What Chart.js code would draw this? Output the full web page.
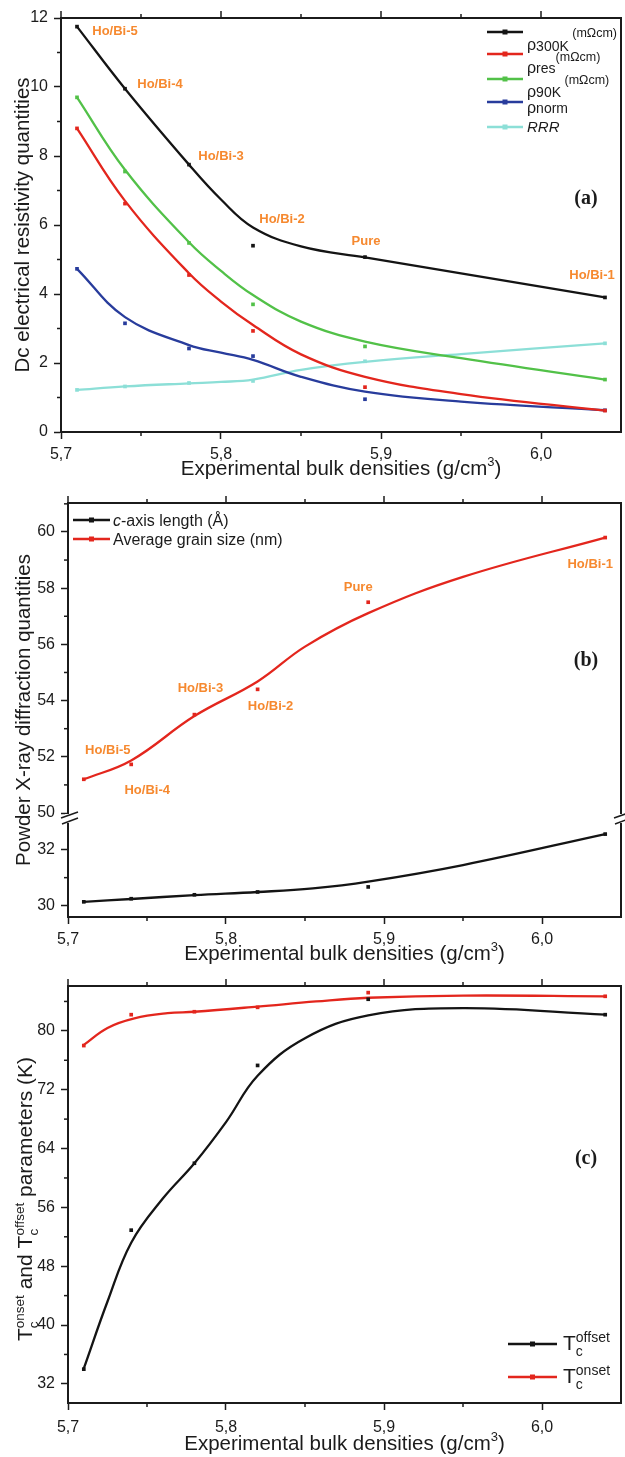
<!DOCTYPE html>
<html>
<head>
<meta charset="utf-8">
<script src="https://cdn.jsdelivr.net/npm/chart.js@4.4.0/dist/chart.umd.min.js"></script>
<style>
  body { margin: 0; background: #fff; }
  #wrap { position: relative; width: 625px; height: 1457px; }
  canvas { position: absolute; left: 0; }
</style>
</head>
<body>
<div id="wrap">
  <canvas id="chartA" width="625" height="482" style="top:0px"></canvas>
  <canvas id="chartB" width="625" height="484" style="top:482px"></canvas>
  <canvas id="chartC" width="625" height="491" style="top:966px"></canvas>
</div>
<script>
// samples (bulk density, g/cm3)
var densities = [5.71, 5.74, 5.78, 5.82, 5.89, 6.04];
var sampleNames = ["Ho/Bi-5", "Ho/Bi-4", "Ho/Bi-3", "Ho/Bi-2", "Pure", "Ho/Bi-1"];

// (a) dc resistivity quantities, measured points
var rho300K = [11.75, 9.95, 7.75, 5.4, 5.07, 3.9];
var rhoRes  = [8.8, 6.62, 4.55, 2.93, 1.3, 0.62];
var rho90K  = [9.7, 7.55, 5.48, 3.7, 2.48, 1.52];
var rhoNorm = [4.73, 3.15, 2.42, 2.2, 0.95, 0.63];
var rrr     = [1.22, 1.32, 1.42, 1.48, 2.05, 2.57];

// (a) fitted curves
var fitXA   = [5.71, 5.74, 5.78, 5.80, 5.82, 5.85, 5.89, 5.95, 6.04];
var fit300K = [11.75, 9.95, 7.75, 6.74, 5.93, 5.38, 5.06, 4.6, 3.9];
var fitRes  = [8.8, 6.7, 4.6, 3.78, 3.1, 2.25, 1.6, 1.1, 0.62];
var fit90K  = [9.7, 7.6, 5.5, 4.67, 3.97, 3.2, 2.62, 2.14, 1.52];
var fitNorm = [4.73, 3.33, 2.52, 2.3, 2.09, 1.6, 1.17, 0.88, 0.63];
var fitRRR  = [1.22, 1.32, 1.41, 1.45, 1.52, 1.8, 2.03, 2.26, 2.57];

// (b) XRD quantities
var cAxis      = [30.14, 30.25, 30.39, 30.49, 30.67, 32.55];
var grainSize  = [51.2, 51.73, 53.5, 54.4, 57.5, 59.8];
var fitXCAxis  = [5.71, 5.74, 5.78, 5.82, 5.855, 5.89, 5.95, 6.04];
var fitCAxis   = [30.14, 30.24, 30.38, 30.49, 30.62, 30.86, 31.45, 32.55];
var fitXGrain  = [5.71, 5.74, 5.78, 5.82, 5.85, 5.89, 5.95, 6.04];
var fitGrain   = [51.2, 51.87, 53.45, 54.68, 55.92, 57.11, 58.4, 59.8];

// (c) Tc parameters
var tcOffset     = [34.0, 52.9, 62.0, 75.3, 84.3, 82.2];
var tcOnset      = [78.0, 82.2, 82.6, 83.2, 85.2, 84.7];
var fitXOffset   = [5.71, 5.725, 5.74, 5.76, 5.78, 5.80, 5.82, 5.85, 5.89, 5.95, 6.04];
var fitTcOffset  = [34.1, 43.2, 51.2, 57.2, 62.0, 67.6, 73.9, 79.0, 82.1, 83.1, 82.2];
var fitXOnset    = [5.71, 5.725, 5.742, 5.763, 5.78, 5.82, 5.857, 5.89, 5.95, 6.04];
var fitTcOnset   = [78.1, 80.4, 81.7, 82.4, 82.6, 83.3, 84.0, 84.5, 84.8, 84.7];

// tick values
var xTicks = [5.7, 5.8, 5.9, 6.0];
var xMinor = [5.75, 5.85, 5.95];
var yTicksA = [0, 2, 4, 6, 8, 10, 12];
var yMinorA = [1, 3, 5, 7, 9, 11];
var yTicksBUp = [50, 52, 54, 56, 58, 60];
var yMinorBUp = [51, 53, 55, 57, 59, 61];
var yTicksBLow = [30, 32];
var yMinorBLow = [31];
var yTicksC = [32, 40, 48, 56, 64, 72, 80];
var yMinorC = [36, 44, 52, 60, 68, 76, 84];

var FONT = "'Liberation Sans', Arial, Helvetica, sans-serif";
var INK = '#1b1b1b';
var ORANGE = '#F6892F';
var C = { black: '#141414', red: '#E3261D', green: '#52C148', blue: '#283C9C', cyan: '#8CDFD7' };
var X_TITLE = ['Experimental bulk densities (g/cm', '3', ')'];

function pts(xs, ys) {
  return xs.map(function (x, i) { return { x: x, y: ys[i] }; });
}
function curve(xs, ys, color, axis) {
  return { data: pts(xs, ys), showLine: true, borderColor: color, borderWidth: 2.3, pointRadius: 0,
           tension: 0.4, yAxisID: axis || 'y', order: 5 };
}
function marks(ys, color, axis, order) {
  return { data: pts(densities, ys), showLine: false, pointStyle: 'rect', pointRadius: 2.6,
           backgroundColor: color, borderColor: color, borderWidth: 0, yAxisID: axis || 'y',
           order: order === undefined ? 1 : order };
}

var gridOpts = { drawOnChartArea: false, drawTicks: true, tickLength: 7, tickColor: INK, tickWidth: 1.5 };
var borderOpts = { display: true, color: INK, width: 2 };

function xScale(h, pad) {
  return {
    type: 'linear', min: 5.7, max: 6.05,
    afterBuildTicks: function (s) { s.ticks = xTicks.map(function (v) { return { value: v }; }); },
    afterFit: function (s) { s.height = h; },
    grid: gridOpts, border: borderOpts,
    ticks: { color: INK, font: { family: FONT, size: 16 }, padding: pad,
             callback: function (v) { return v.toFixed(1).replace('.', ','); } }
  };
}
function yScale(min, max, ticks, width, extra) {
  var s = {
    type: 'linear', position: 'left', min: min, max: max,
    afterBuildTicks: function (sc) { sc.ticks = ticks.map(function (v) { return { value: v }; }); },
    afterFit: function (sc) { sc.width = width; },
    grid: gridOpts, border: borderOpts,
    ticks: { color: INK, font: { family: FONT, size: 16 }, padding: 6 }
  };
  if (extra) Object.assign(s, extra);
  return s;
}

// draw a run of text pieces (for sub/superscripts)
function runs(ctx, x, y, parts) {
  parts.forEach(function (p) {
    ctx.font = (p.st || '') + ' ' + p.size + 'px ' + FONT;
    ctx.fillText(p.t, x, y + (p.dy || 0));
    x += ctx.measureText(p.t).width;
  });
  return x;
}
// T with subscript c and a superscript
function tc(ctx, x, y, sup, big, small) {
  ctx.font = big + 'px ' + FONT;
  ctx.fillText('T', x, y);
  x += ctx.measureText('T').width;
  ctx.font = small + 'px ' + FONT;
  ctx.fillText(sup, x, y - 8);
  ctx.fillText('c', x, y + 6);
  return x + Math.max(ctx.measureText(sup).width, ctx.measureText('c').width);
}

function makeDecor(cfg) {
  return {
    id: 'decor',
    afterDraw: function (chart) {
      var ctx = chart.ctx, a = chart.chartArea, sx = chart.scales.x;
      ctx.save();
      ctx.strokeStyle = INK;
      ctx.fillStyle = INK;
      function seg(x1, y1, x2, y2) { ctx.beginPath(); ctx.moveTo(x1, y1); ctx.lineTo(x2, y2); ctx.stroke(); }

      // frame top + right
      ctx.lineWidth = 2;
      ctx.beginPath();
      ctx.moveTo(a.left - 1, a.top); ctx.lineTo(a.right, a.top); ctx.lineTo(a.right, a.bottom + 1);
      ctx.stroke();

      // top ticks and minor ticks
      ctx.lineWidth = 1.5;
      xTicks.forEach(function (v) { var p = sx.getPixelForValue(v); seg(p, a.top, p, a.top - 7); });
      xMinor.forEach(function (v) {
        var p = sx.getPixelForValue(v);
        seg(p, a.top, p, a.top - 4);
        seg(p, a.bottom, p, a.bottom + 4);
      });
      cfg.yMinor.forEach(function (m) {
        var s = chart.scales[m.axis];
        m.values.forEach(function (v) { var p = s.getPixelForValue(v); seg(a.left, p, a.left - 4, p); });
      });

      // axis break marks
      if (cfg.breakAt) {
        var yb = chart.scales[cfg.breakAt].bottom;
        [a.left, a.right].forEach(function (x) {
          ctx.fillStyle = '#fff';
          ctx.fillRect(x - 3, yb + 1, 6, 9);
          ctx.strokeStyle = INK;
          ctx.lineWidth = 1.5;
          seg(x - 7, yb + 5, x + 10, yb - 1);
          seg(x - 6, yb + 11, x + 10, yb + 5);
        });
        ctx.fillStyle = INK;
      }

      // sample labels
      if (cfg.labels) {
        var ys = chart.scales[cfg.labels.axis];
        ctx.fillStyle = ORANGE;
        ctx.font = 'bold 13px ' + FONT;
        ctx.textAlign = 'center';
        ctx.textBaseline = 'middle';
        sampleNames.forEach(function (name, i) {
          var px = sx.getPixelForValue(densities[i]) + cfg.labels.off[i][0];
          var py = ys.getPixelForValue(cfg.labels.series[i]) + cfg.labels.off[i][1];
          ctx.fillText(name, px, py);
        });
        ctx.fillStyle = INK;
      }

      // panel tag
      ctx.textAlign = 'center';
      ctx.textBaseline = 'middle';
      ctx.font = 'bold 20px "Liberation Serif", "Times New Roman", serif';
      ctx.fillText(cfg.tag[0], cfg.tag[1], cfg.tag[2]);

      // x title
      ctx.textAlign = 'left';
      ctx.textBaseline = 'alphabetic';
      ctx.font = '20.5px ' + FONT;
      var w = ctx.measureText(X_TITLE[0]).width + ctx.measureText(X_TITLE[2]).width;
      ctx.font = '13px ' + FONT;
      w += ctx.measureText(X_TITLE[1]).width;
      runs(ctx, (a.left + a.right) / 2 - w / 2, cfg.xTitleY, [
        { t: X_TITLE[0], size: 20.5 }, { t: X_TITLE[1], size: 13, dy: -9 }, { t: X_TITLE[2], size: 20.5 }
      ]);

      // y title
      ctx.save();
      if (cfg.yTitle) {
        ctx.translate(cfg.yTitleX, (a.top + a.bottom) / 2);
        ctx.rotate(-Math.PI / 2);
        ctx.textAlign = 'center';
        ctx.font = '20.5px ' + FONT;
        ctx.fillText(cfg.yTitle, 0, 0);
      }
      if (cfg.yTitleDraw) cfg.yTitleDraw(ctx, a);
      ctx.restore();

      // legend
      ctx.textAlign = 'left';
      ctx.textBaseline = 'alphabetic';
      cfg.legend.rows.forEach(function (r) {
        ctx.strokeStyle = r.color;
        ctx.fillStyle = r.color;
        ctx.lineWidth = 2.6;
        seg(cfg.legend.x1, r.y, cfg.legend.x2, r.y);
        var mx = (cfg.legend.x1 + cfg.legend.x2) / 2;
        ctx.fillRect(mx - 2.5, r.y - 2.5, 5, 5);
        ctx.fillStyle = INK;
        if (r.draw) r.draw(ctx, cfg.legend.tx, r.y);
        else runs(ctx, cfg.legend.tx, r.y, r.parts);
      });
      ctx.restore();
    }
  };
}

var baseOpts = function (padTop, scales) {
  return {
    responsive: false, animation: false,
    layout: { padding: { top: padTop, right: 1, left: 0, bottom: 0 } },
    plugins: { legend: { display: false }, tooltip: { enabled: false } },
    scales: scales
  };
};

// ---------- (a) ----------
new Chart('chartA', {
  type: 'scatter',
  data: {
    datasets: [
      curve(fitXA, fit300K, C.black), curve(fitXA, fitRes, C.red), curve(fitXA, fit90K, C.green),
      curve(fitXA, fitNorm, C.blue), curve(fitXA, fitRRR, C.cyan),
      marks(rho300K, C.black), marks(rhoRes, C.red), marks(rho90K, C.green),
      marks(rhoNorm, C.blue), marks(rrr, C.cyan)
    ]
  },
  options: baseOpts(18, { x: xScale(50, 6), y: yScale(0, 12, yTicksA, 61) }),
  plugins: [makeDecor({
    yMinor: [{ axis: 'y', values: yMinorA }],
    labels: { axis: 'y', series: rho300K, off: [[38, 5], [35, -4], [32, -8], [29, -26], [1, -16], [-13, -22]] },
    tag: ['(a)', 586, 199],
    xTitleY: 475,
    yTitle: 'Dc electrical resistivity quantities', yTitleX: 28.5,
    legend: {
      x1: 487, x2: 523, tx: 527,
      rows: [
        { color: C.black, y: 32, parts: [{ t: 'ρ', size: 16, dy: 18 }, { t: '300K', size: 14, dy: 18.5 }, { t: ' (mΩcm)', size: 12.5, dy: 5 }] },
        { color: C.red, y: 54, parts: [{ t: 'ρ', size: 16, dy: 19 }, { t: 'res', size: 14, dy: 19 }, { t: '(mΩcm)', size: 12.5, dy: 7 }] },
        { color: C.green, y: 79, parts: [{ t: 'ρ', size: 16, dy: 18 }, { t: '90K', size: 14, dy: 18 }, { t: ' (mΩcm)', size: 12.5, dy: 4.5 }] },
        { color: C.blue, y: 102, parts: [{ t: 'ρ', size: 16, dy: 10.5 }, { t: 'norm', size: 14, dy: 10.5 }] },
        { color: C.cyan, y: 127, parts: [{ t: 'RRR', size: 15, dy: 5, st: 'italic' }] }
      ]
    }
  })]
});

// ---------- (b) ----------
new Chart('chartB', {
  type: 'scatter',
  data: {
    datasets: [
      curve(fitXCAxis, fitCAxis, C.black, 'yLow'), curve(fitXGrain, fitGrain, C.red, 'yUp'),
      marks(cAxis, C.black, 'yLow'), marks(grainSize, C.red, 'yUp')
    ]
  },
  options: baseOpts(21, {
    x: xScale(49, 6),
    yLow: yScale(29.6, 33.3, yTicksBLow, 68, { stack: 'xrd', stackWeight: 3.7 }),
    yUp: yScale(50, 61.03, yTicksBUp, 68, { stack: 'xrd', stackWeight: 11.03 })
  }),
  plugins: [makeDecor({
    yMinor: [{ axis: 'yUp', values: yMinorBUp }, { axis: 'yLow', values: yMinorBLow }],
    breakAt: 'yUp',
    labels: { axis: 'yUp', series: grainSize, off: [[24, -29], [16, 26], [6, -26], [13, 17], [-10, -15], [-15, 27]] },
    tag: ['(b)', 586, 179],
    xTitleY: 478,
    yTitle: 'Powder X-ray diffraction quantities', yTitleX: 30,
    legend: {
      x1: 73, x2: 110, tx: 113,
      rows: [
        { color: C.black, y: 38, parts: [{ t: 'c', size: 16, dy: 6, st: 'italic' }, { t: '-axis length (Å)', size: 16, dy: 6 }] },
        { color: C.red, y: 57, parts: [{ t: 'Average grain size (nm)', size: 16, dy: 6 }] }
      ]
    }
  })]
});

// ---------- (c) ----------
new Chart('chartC', {
  type: 'scatter',
  data: {
    datasets: [
      curve(fitXOffset, fitTcOffset, C.black), curve(fitXOnset, fitTcOnset, C.red),
      marks(tcOffset, C.black, 'y', 1), marks(tcOnset, C.red, 'y', 0)
    ]
  },
  options: baseOpts(20, { x: xScale(54, 8), y: yScale(29.4, 86.1, yTicksC, 68) }),
  plugins: [makeDecor({
    yMinor: [{ axis: 'y', values: yMinorC }],
    tag: ['(c)', 586, 193],
    xTitleY: 484,
    yTitleDraw: function (ctx, a) {
      ctx.translate(31.5, 375);
      ctx.rotate(-Math.PI / 2);
      ctx.textAlign = 'left';
      ctx.textBaseline = 'alphabetic';
      var x = tc(ctx, 0, 0, 'onset', 21, 13.5);
      x = runs(ctx, x, 0, [{ t: ' and ', size: 21 }]);
      x = tc(ctx, x, 0, 'offset', 21, 13.5);
      runs(ctx, x, 0, [{ t: ' parameters (K)', size: 21 }]);
    },
    legend: {
      x1: 508, x2: 557, tx: 563,
      rows: [
        { color: C.black, y: 378, draw: function (ctx, x, y) { tc(ctx, x, y + 6, 'offset', 21, 14); } },
        { color: C.red, y: 411, draw: function (ctx, x, y) { tc(ctx, x, y + 6, 'onset', 21, 14); } }
      ]
    }
  })]
});
</script>
</body>
</html>
